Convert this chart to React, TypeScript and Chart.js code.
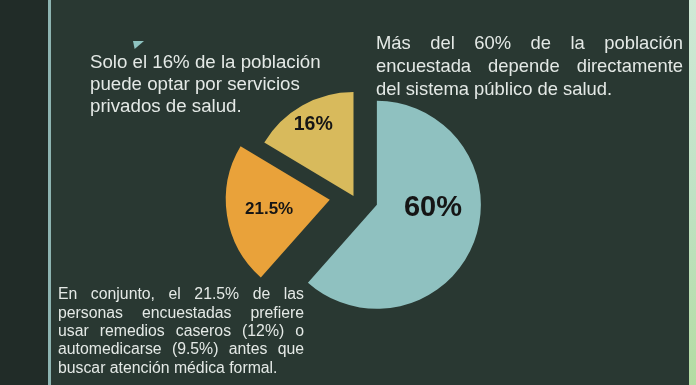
import React, { useEffect, useRef } from 'react';
import { Chart, registerables } from 'chart.js';

Chart.register(...registerables);

// ---- data ----
const categories = ['Sistema público de salud', 'Remedios caseros / automedicación', 'Servicios privados de salud'];
const shares = [60, 21.5, 16];
const shareLabels = ['60%', '21.5%', '16%'];

// ---- styling ----
const sliceColors = ['#8fc1c0', '#e9a23a', '#d8ba5c'];
const explodeDistances = [25, 24, 0];
const labelRadiusFractions = [0.54, 0.59, 0.785];
const labelAngleShifts = [-17.75, 0, 0];
const labelFontSizes = [29, 17, 19.5];

const topLeftNote = ['Solo el 16% de la población', 'puede optar por servicios', 'privados de salud.'];
const rightNote = ['Más del 60% de la población', 'encuestada depende directamente', 'del sistema público de salud.'];
const bottomNote = [
  'En conjunto, el 21.5% de las',
  'personas encuestadas prefiere',
  'usar remedios caseros (12%) o',
  'automedicarse (9.5%) antes que',
  'buscar atención médica formal.',
];

const FONT = '"Liberation Sans", Arial, Helvetica, sans-serif';
const TEXT_COLOR = '#e4e9e6';

const explodePlugin = {
  id: 'explodeSlices',
  afterDatasetUpdate(chart: any, args: any) {
    const meta = chart.getDatasetMeta(args.index);
    meta.data.forEach((arc: any, i: number) => {
      const d = explodeDistances[i] || 0;
      const mid = (arc.startAngle + arc.endAngle) / 2;
      arc.x += Math.cos(mid) * d;
      arc.y += Math.sin(mid) * d;
    });
  },
};

const sliceLabelPlugin = {
  id: 'sliceLabels',
  afterDatasetsDraw(chart: any) {
    const ctx = chart.ctx;
    const meta = chart.getDatasetMeta(0);
    ctx.save();
    meta.data.forEach((arc: any, i: number) => {
      const mid = (arc.startAngle + arc.endAngle) / 2 + (labelAngleShifts[i] * Math.PI) / 180;
      const r = arc.outerRadius * labelRadiusFractions[i];
      const x = arc.x + Math.cos(mid) * r;
      const y = arc.y + Math.sin(mid) * r;
      ctx.font = `bold ${labelFontSizes[i]}px ${FONT}`;
      ctx.fillStyle = '#151515';
      ctx.textAlign = 'center';
      ctx.textBaseline = 'middle';
      ctx.fillText(shareLabels[i], x, y);
    });
    ctx.restore();
  },
};

function NoteBlock({ lines, left, top, width, fontSize, lineHeight, justify }: any) {
  return (
    <div
      style={{
        position: 'absolute',
        left,
        top,
        width,
        fontFamily: FONT,
        fontSize,
        lineHeight: `${lineHeight}px`,
        color: TEXT_COLOR,
        whiteSpace: 'nowrap',
      }}
    >
      {lines.map((l: string, i: number) => {
        const j = justify && i < lines.length - 1;
        return (
          <div
            key={i}
            style={{
              textAlign: j ? 'justify' : 'left',
              textAlignLast: j ? 'justify' : 'left',
              whiteSpace: j ? 'normal' : 'nowrap',
            } as any}
          >
            {l}
          </div>
        );
      })}
    </div>
  );
}

export default function App() {
  const canvasRef = useRef<HTMLCanvasElement | null>(null);

  useEffect(() => {
    if (!canvasRef.current) return;
    const chart = new Chart(canvasRef.current, {
      type: 'pie',
      data: {
        labels: categories,
        datasets: [
          {
            data: shares,
            backgroundColor: sliceColors,
            borderWidth: 0,
            radius: 104,
          } as any,
        ],
      },
      options: {
        responsive: false,
        animation: false,
        events: [],
        layout: { padding: { left: 11, top: 7, right: 0, bottom: 0 } },
        plugins: {
          legend: { display: false },
          tooltip: { enabled: false },
        },
      },
      plugins: [explodePlugin, sliceLabelPlugin],
    });
    return () => chart.destroy();
  }, []);

  return (
    <div
      style={{
        position: 'absolute',
        left: 0,
        top: 0,
        width: 696,
        height: 385,
        overflow: 'hidden',
        background: '#293832',
      }}
    >
      <div style={{ position: 'absolute', left: 0, top: 0, width: 48, height: 385, background: '#212c28' }} />
      <div style={{ position: 'absolute', left: 48, top: 0, width: 3, height: 385, background: '#8db4b1' }} />
      <div
        style={{
          position: 'absolute',
          left: 689,
          top: 0,
          width: 7,
          height: 385,
          background: 'linear-gradient(to bottom, #cfe9d6, #bfe2c4 50%, #b3dca2)',
        }}
      />
      <div
        style={{
          position: 'absolute',
          left: 133,
          top: 41,
          width: 11,
          height: 8,
          background: '#8ec3c0',
          clipPath: 'polygon(0 0, 100% 0, 15% 100%)',
        }}
      />
      <canvas
        ref={canvasRef}
        width={696}
        height={385}
        style={{ position: 'absolute', left: 0, top: 0, width: 696, height: 385 }}
      />
      <NoteBlock lines={topLeftNote} left={90} top={50.5} width={240} fontSize={18.7} lineHeight={22} justify={false} />
      <NoteBlock lines={rightNote} left={376} top={31} width={307} fontSize={18.4} lineHeight={23} justify={true} />
      <NoteBlock lines={bottomNote} left={58} top={285.4} width={246} fontSize={15.8} lineHeight={18.3} justify={true} />
    </div>
  );
}
